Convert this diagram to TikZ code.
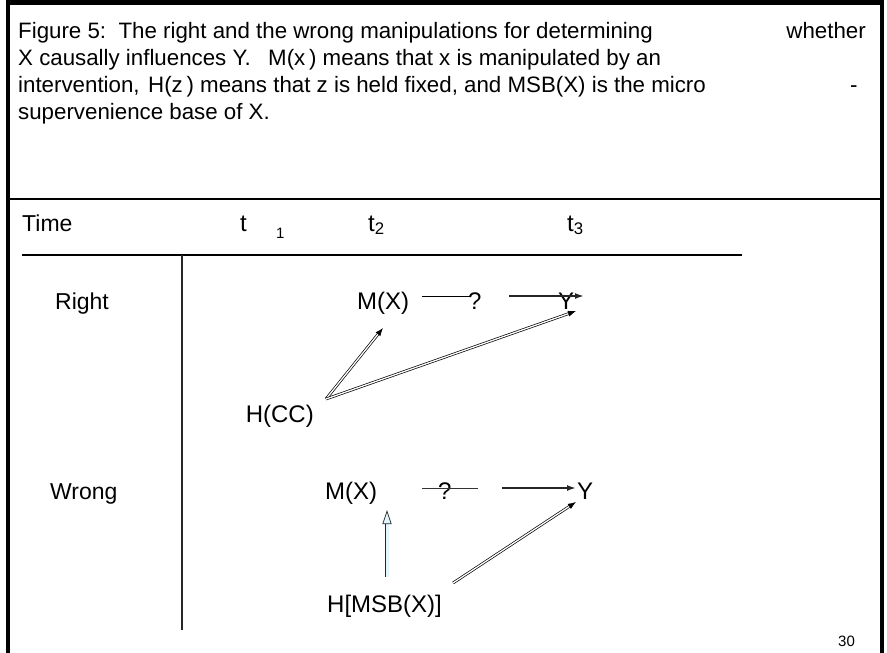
\documentclass[tikz,border=0pt]{standalone}
\usepackage{fontspec}
\setmainfont{Liberation Sans}
\usetikzlibrary{arrows.meta}
\begin{document}
\begin{tikzpicture}[x=1pt, y=-1pt,
    every node/.style={font=\fontsize{22.3}{26}\selectfont, inner sep=0pt, anchor=base west},
    big/.style={font=\fontsize{24}{28}\selectfont},
    small/.style={font=\fontsize{15}{18}\selectfont},
    hollow/.style={draw=black, double=white, double distance=1.3pt, line width=0.7pt,
        -{Latex[length=8pt, width=6pt]}},
    plainarrow/.style={line width=1.7pt, black!85, -{Latex[length=9pt, width=6pt]}},
    cyanarrow/.style={draw=black!85, double=cyan!12, double distance=3pt, line width=0.7pt,
        -{Triangle[length=14pt, width=9pt, fill=cyan!12]}}]
    \useasboundingbox (0,0) rectangle (887,653);
    % frame and table rules
    \draw[line width=4.5pt] (8,653) -- (8,2.5) -- (882,2.5) -- (882,653);
    \draw[line width=1.3pt] (8,199) -- (882,199);
    \draw[line width=1.1pt] (22,255) -- (742,255);
    \draw[line width=1.1pt, black!85] (182,255) -- (182,630);
    % caption
    \node (cap1) at (18,38) {Figure 5:\ \ The right and the wrong manipulations for determining};
    \node[anchor=base east] (cap1b) at (866,38) {whether};
    \node (cap2) at (18,65) {X causally influences Y.};
    \node (cap2b) at (268,65) {M(x\,) means that x is manipulated by an};
    \node (cap3) at (18,92) {intervention,};
    \node (cap3b) at (148,92) {H(z\,) means that z is held fixed, and MSB(X) is the micro};
    \node (cap3c) at (850,92) {-};
    \node (cap4) at (18,119) {supervenience base of X.};
    % time row
    \node[font=\fontsize{23}{27}\selectfont] (time) at (22,231) {Time};
    \node[big] (t1) at (240,231) {t};
    \node[small] (t1sub) at (276,238) {1};
    \node[big] (t2) at (368,231) {t\textsubscript{2}};
    \node[big] (t3) at (567,231) {t\textsubscript{3}};
    % right manipulation
    \node[font=\fontsize{23}{27}\selectfont] (right) at (55,309) {Right};
    \node[big] (mxr) at (357,309) {M(X)};
    \node[big] (qr) at (468,309) {?};
    \node[big] (yr) at (558,309) {Y};
    \node[big, anchor=base east] (hcc) at (314,422) {H(CC)};
    \coordinate (qrl) at (422,296);
    \coordinate (qrr) at (471,296);
    \coordinate (arl) at (509,296);
    \coordinate (arr) at (584,296);
    \coordinate (hccout) at (326,399);
    \draw[line width=0.8pt] (qrl) -- (qrr);
    \draw[plainarrow] (arl) -- (arr);
    \draw[hollow] (hccout) -- (383,328);
    \draw[hollow] (hccout) -- (576,311);
    % wrong manipulation
    \node[font=\fontsize{23}{27}\selectfont] (wrong) at (50,499) {Wrong};
    \node[big] (mxw) at (325,499) {M(X)};
    \node[big] (qw) at (438,499) {?};
    \node[big] (yw) at (577,499) {Y};
    \node[big] (hmsb) at (327,612) {H[MSB(X)]};
    \coordinate (qwl) at (422,488);
    \coordinate (qwr) at (478,488);
    \coordinate (awl) at (502,488);
    \coordinate (awr) at (576,488);
    \coordinate (msbup) at (387,577);
    \coordinate (msbout) at (453,583);
    \draw[line width=0.8pt, black!80] (qwl) -- (qwr);
    \draw[plainarrow] (awl) -- (awr);
    \draw[cyanarrow] (msbup) -- (387,510);
    \draw[hollow] (msbout) -- (576,502);
    % page number
    \node[small] (page) at (838,646) {30};
\end{tikzpicture}
\end{document}
